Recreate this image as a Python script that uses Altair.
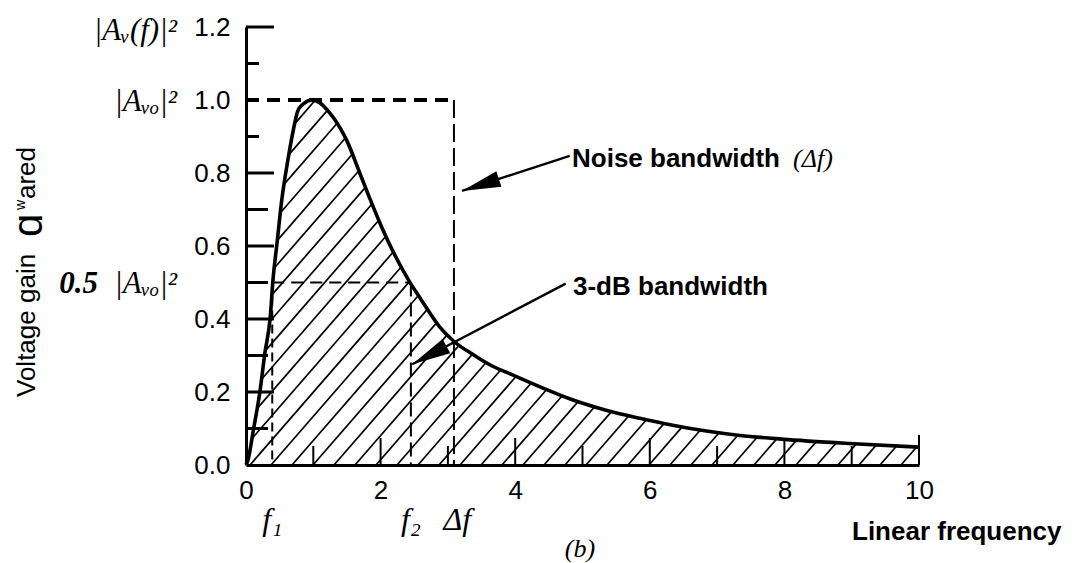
import altair as alt
import pandas as pd
import numpy as np

# ---- data ----
freq = [0.0, 0.03, 0.11, 0.21, 0.28, 0.36, 0.40, 0.46, 0.53, 0.62, 0.70, 0.77, 0.85, 0.98,
        1.10, 1.22, 1.40, 1.50, 1.69, 1.84, 2.02, 2.42, 2.61, 2.88, 3.10, 3.38, 3.63, 3.97,
        4.37, 4.86, 5.35, 5.85, 6.34, 6.84, 7.34, 7.96, 8.96, 10.0]
gain = [0.0, 0.014, 0.096, 0.205, 0.306, 0.405, 0.505, 0.606, 0.724, 0.833, 0.915, 0.970,
        0.989, 1.0, 0.992, 0.970, 0.923, 0.888, 0.800, 0.730, 0.650, 0.505, 0.451, 0.378,
        0.337, 0.302, 0.274, 0.246, 0.214, 0.178, 0.150, 0.128, 0.109, 0.093, 0.081, 0.071,
        0.059, 0.049]

f1, f2, df = 0.39, 2.45, 3.09
peak, half = 1.0, 0.5

x_tick_labels = [0, 2, 4, 6, 8, 10]
y_tick_labels = [0.0, 0.2, 0.4, 0.6, 0.8, 1.0, 1.2]
x_major_marks = [2, 4, 6, 8]
x_minor_marks = [1, 3, 5, 7, 9]
x_end_mark = [10]
y_major_marks = [0.2, 0.4, 0.6, 0.8, 1.2]
y_mid_marks = [0.1, 0.3, 0.5, 0.7]
y_short_marks = [0.9, 1.1]

arrow_x0 = [4.81, 4.75]
arrow_y0 = [0.847, 0.497]
arrow_x1 = [3.21, 2.47]
arrow_y1 = [0.751, 0.276]
arrow_angle = [252, 242]

# ---- layout ----
W, H = 673, 438
XMAX, YMAX = 10, 1.2
xs_ = alt.Scale(domain=[0, XMAX], nice=False, zero=False)
ys_ = alt.Scale(domain=[0, YMAX], nice=False, zero=False)

curve = pd.DataFrame({"f": freq, "g": gain})

# hatch segments derived from the curve (pixel-space diagonal lines)
PX, PY = W / XMAX, H / YMAX
xp_c = np.array(freq) * PX
hp_c = np.array(gain) * PY
xs = np.linspace(0, W, 13461)
hc = np.interp(xs, xp_c, hp_c)
k, spacing, c0 = 1.15, 21.0, 4.0
segs = []
c = c0 - spacing * 20
while c < W:
    h = k * (xs - c)
    inside = (h >= 0) & (h <= hc)
    if inside.any():
        idx = np.where(inside)[0]
        a, b = idx[0], idx[-1]
        if b > a:
            segs.append((xs[a] / PX, h[a] / PY, xs[b] / PX, h[b] / PY))
    c += spacing
hatch = pd.DataFrame(segs, columns=["x", "y", "x2", "y2"])

X = lambda f: alt.X(f, type="quantitative", scale=xs_,
                    axis=alt.Axis(values=x_tick_labels, format="d", title=None, ticks=False,
                                  grid=False, labelFontSize=26, labelFont="Liberation Sans",
                                  labelColor="black", labelPadding=12, domainColor="black",
                                  domainWidth=3, labelFlush=False))
Y = lambda f: alt.Y(f, type="quantitative", scale=ys_,
                    axis=alt.Axis(values=y_tick_labels, format=".1f", title=None, ticks=False,
                                  grid=False, labelFontSize=26, labelFont="Liberation Sans",
                                  labelColor="black", labelPadding=16, domainColor="black",
                                  domainWidth=3, labelFlush=False))

hatch_layer = alt.Chart(hatch).mark_rule(color="black", strokeWidth=1.7).encode(
    x=X("x"), y=Y("y"), x2="x2", y2="y2")

line_layer = alt.Chart(curve).mark_line(color="black", strokeWidth=3.6,
                                        interpolate="monotone").encode(x=X("f"), y=Y("g"))

def seg(x0, y0, x1, y1, width, dash):
    d = pd.DataFrame({"x": [x0], "y": [y0], "x2": [x1], "y2": [y1]})
    return alt.Chart(d).mark_rule(color="black", strokeWidth=width, strokeDash=dash).encode(
        x=X("x"), y=Y("y"), x2="x2", y2="y2")

dashes = [
    seg(0, peak, df, peak, 4, [13, 8]),
    seg(df, peak, df, 0, 2, [18, 6]),
    seg(f1, half, f2, half, 2, [12, 7]),
    seg(f1, half, f1, 0, 2, [9, 5]),
    seg(f2, half, f2, 0, 2, [14, 6]),
]

def xmarks(vals, length):
    return alt.Chart(pd.DataFrame({"v": vals})).mark_rule(color="black", strokeWidth=2).encode(
        x=X("v"), y=alt.value(H), y2=alt.value(H - length))

def ymarks(vals, length):
    return alt.Chart(pd.DataFrame({"v": vals})).mark_rule(color="black", strokeWidth=3).encode(
        y=Y("v"), x=alt.value(0), x2=alt.value(length))

ticks = [xmarks(x_major_marks, 27), xmarks(x_minor_marks, 19), xmarks(x_end_mark, 30),
         ymarks(y_major_marks, 28), ymarks(y_mid_marks, 22), ymarks(y_short_marks, 13)]

arrows = pd.DataFrame({"x": arrow_x0, "y": arrow_y0, "x2": arrow_x1, "y2": arrow_y1,
                       "ang": arrow_angle})
arrow_lines = alt.Chart(arrows).mark_rule(color="black", strokeWidth=2.4).encode(
    x=X("x"), y=Y("y"), x2="x2", y2="y2")
arrow_heads = alt.Chart(arrows).mark_point(
    shape="M0,0L-0.42,2L0.42,2Z", filled=True, color="black", opacity=1, size=1500).encode(
    x=X("x2"), y=Y("y2"), angle=alt.Angle("ang:Q", scale=None))

def txt(text, x, y, size, font="Liberation Sans", style="normal", weight="normal",
        align="left", baseline="alphabetic", angle=0):
    return alt.Chart(pd.DataFrame({"t": [text]})).mark_text(
        align=align, baseline=baseline, font=font, fontSize=size, fontStyle=style,
        fontWeight=weight, angle=angle, color="black").encode(
        x=x, y=y, text="t:N")

V = alt.value
serif = "Liberation Serif"
texts = [
    txt("|A\u1d65(f)|\u00b2", V(-69), V(13), 31, font=serif, style="italic", align="right"),
    txt("|A\u1d65\u2092|\u00b2", V(-69), V(84), 31, font=serif, style="italic", align="right"),
    txt("|A\u1d65\u2092|\u00b2", V(-69), V(266), 31, font=serif, style="italic", align="right"),
    txt("0.5", V(-148), V(266), 31, font=serif, style="italic", weight="bold", align="right"),
    # rotated axis title, pieced together
    txt("Voltage gain", V(-211), V(370), 26, angle=270),
    txt("\u0251", V(-204), V(210), 42, angle=270),
    txt("w", V(-221), V(183), 14, angle=270),
    txt("ared", V(-211), V(172), 26, angle=270),
    txt("Linear frequency", V(606), V(513), 26, weight="bold"),
    txt("Noise bandwidth", V(326), V(140), 26, weight="bold"),
    txt("(\u0394f)", V(547), V(140), 26, font=serif, style="italic"),
    txt("3-dB bandwidth", V(327), V(268), 26, weight="bold"),
    txt("(b)", V(334), V(530), 26, font=serif, style="italic", align="center"),
]
freq_labels = pd.DataFrame({"x": [f1, f2, df + 0.05], "t": ["f\u2081", "f\u2082", "\u0394f"]})
freq_text = alt.Chart(freq_labels).mark_text(
    font=serif, fontStyle="italic", fontSize=32, color="black", baseline="alphabetic",
    align="center").encode(x=X("x"), y=V(503), text="t:N")

chart = alt.layer(
    hatch_layer, *dashes, *ticks, line_layer, arrow_lines, arrow_heads, *texts, freq_text
).properties(
    width=W, height=H, autosize=alt.AutoSizeParams(type="none"),
    padding={"left": 246, "top": 27, "right": 1077 - 246 - W, "bottom": 563 - 27 - H},
    background="white"
).configure_view(stroke=None)

chart.save("out.html", embed_options={"renderer": "svg", "actions": False})
